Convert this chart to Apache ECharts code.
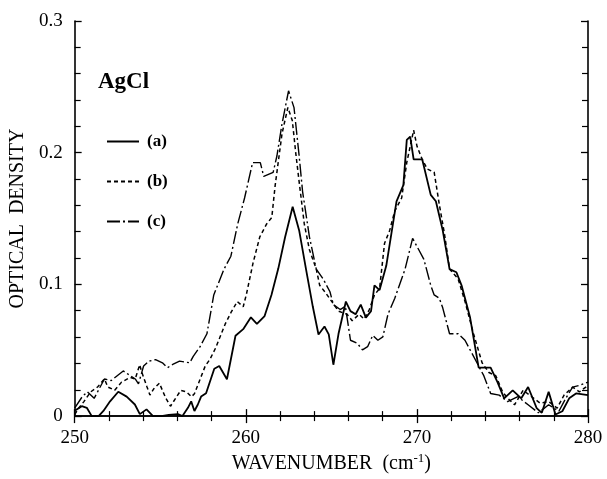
<!DOCTYPE html>
<html>
<head>
<meta charset="utf-8">
<script src="https://cdn.jsdelivr.net/npm/echarts@6/dist/echarts.min.js"></script>
<style>html,body{margin:0;padding:0;background:#fff;}#c{width:607px;height:479px;}</style>
</head>
<body>
<div id="c"></div>
<script>
// x ticks / y ticks
const xTicks = [250, 260, 270, 280];
const yTicks = [0, 0.1, 0.2, 0.3];
const seriesNames = ['(a)', '(b)', '(c)'];

// (a) solid
const aWn = [250.0,250.42,250.71,251.0,251.4,251.68,252.07,252.55,253.04,253.52,253.81,254.2,254.58,255.07,255.5,256.03,256.3,256.62,256.81,257.0,257.2,257.39,257.68,258.16,258.45,258.9,259.4,259.85,260.3,260.65,261.1,261.5,261.9,262.3,262.74,263.12,263.52,263.92,264.25,264.6,264.85,265.12,265.42,265.85,266.12,266.42,266.72,267.02,267.32,267.52,267.82,268.21,268.51,268.81,269.21,269.41,269.61,269.81,270.31,270.81,271.11,271.51,271.91,272.31,272.61,273.11,273.61,274.31,274.71,275.1,275.6,276.1,276.5,277.0,277.3,277.7,278.1,278.5,278.9,279.3,280.0];
const aOd = [0.004,0.0075,0.0063,0.0,0.0,0.0039,0.0112,0.0185,0.0148,0.0088,0.0015,0.0051,0.0,0.0,0.001,0.0015,0.0,0.0063,0.0112,0.0039,0.0088,0.0148,0.0173,0.036,0.038,0.028,0.061,0.066,0.075,0.07,0.076,0.092,0.112,0.136,0.159,0.141,0.1116,0.083,0.062,0.068,0.062,0.039,0.0625,0.087,0.0797,0.0773,0.0846,0.0748,0.0797,0.0993,0.0957,0.1141,0.1386,0.1631,0.1754,0.2097,0.2122,0.195,0.195,0.168,0.1631,0.141,0.1116,0.1092,0.0993,0.0748,0.0368,0.0368,0.0258,0.0135,0.0196,0.0135,0.0221,0.0061,0.0025,0.0184,0.0012,0.0037,0.0135,0.0172,0.0159];

// (b) short dash
const bWn = [250.0,250.24,250.54,250.94,251.34,251.74,251.94,252.34,252.74,253.24,253.54,253.8,253.93,254.23,254.4,254.63,254.95,255.33,255.6,256.2,256.53,256.83,257.0,257.63,257.9,258.23,258.8,259.13,259.5,259.85,260.03,260.43,260.82,261.22,261.52,261.72,262.12,262.46,262.72,262.92,263.12,263.42,263.72,264.12,264.32,264.62,265.02,265.42,265.92,266.22,266.62,266.92,267.22,267.52,267.82,268.11,268.41,268.71,269.11,269.41,269.61,269.81,270.01,270.31,270.61,271.01,271.31,271.61,271.91,272.41,272.81,273.31,273.81,274.21,274.61,275.01,275.31,275.71,276.21,276.71,277.2,277.7,278.2,278.6,279.1,279.5,280.0];
const bOd = [0.0012,0.0061,0.011,0.0184,0.0221,0.0282,0.0221,0.0196,0.0258,0.0294,0.0282,0.039,0.0331,0.0221,0.016,0.0208,0.025,0.0135,0.0075,0.0195,0.0185,0.0147,0.017,0.038,0.043,0.0515,0.07,0.0785,0.087,0.083,0.092,0.1165,0.1361,0.1459,0.1508,0.1754,0.2146,0.2343,0.2244,0.1999,0.1778,0.1459,0.1263,0.1116,0.0993,0.0944,0.0871,0.0797,0.0773,0.0724,0.0773,0.0736,0.0809,0.092,0.0969,0.1312,0.141,0.1558,0.1656,0.1926,0.2048,0.2171,0.2048,0.195,0.1876,0.1852,0.1607,0.1386,0.1116,0.1042,0.0871,0.0625,0.0405,0.0331,0.0307,0.0184,0.0135,0.0086,0.0196,0.0147,0.0098,0.011,0.0061,0.0159,0.022,0.0184,0.0233];

// (c) long dash-dot
const cWn = [250.0,250.44,250.74,251.14,251.74,252.14,252.84,253.54,253.73,254.03,254.33,254.73,255.13,255.43,255.73,256.13,256.73,256.93,257.33,257.73,258.13,258.73,259.13,259.53,259.93,260.4,260.85,261.05,261.6,261.82,262.12,262.5,262.82,263.12,263.32,263.72,264.12,264.52,264.92,265.12,265.52,265.82,266.12,266.52,266.82,267.12,267.42,267.72,268.01,268.31,268.71,269.31,269.75,270.11,270.41,270.81,271.01,271.31,271.51,271.91,272.41,272.81,273.11,273.51,273.91,274.31,274.81,275.3,275.9,276.5,277.1,277.7,278.3,278.7,279.1,279.5,280.0];
const cOd = [0.0061,0.0147,0.0184,0.0135,0.0282,0.027,0.0343,0.0282,0.0245,0.038,0.0417,0.0429,0.0405,0.0368,0.0392,0.0417,0.0405,0.0454,0.0527,0.0625,0.092,0.1116,0.1214,0.1459,0.1656,0.1925,0.1925,0.182,0.185,0.1975,0.222,0.247,0.2342,0.1975,0.1705,0.1361,0.1116,0.1042,0.0944,0.0846,0.0809,0.0834,0.0576,0.0552,0.0503,0.0527,0.0613,0.0576,0.0601,0.0773,0.0895,0.1116,0.135,0.1263,0.119,0.0993,0.092,0.0895,0.0822,0.0625,0.0625,0.0576,0.0503,0.0405,0.0307,0.0172,0.0159,0.011,0.0147,0.0086,0.0025,0.0086,0.0037,0.0135,0.022,0.0233,0.0258];

function pairs(xs, ys) { return xs.map((x, i) => [x, ys[i]]); }

const font = 'Liberation Serif';
const chart = echarts.init(document.getElementById('c'), null, {renderer: 'canvas'});

const baseAxisLine = {show: true, lineStyle: {color: '#000', width: 1.6}};
const xAxisCommon = {
  type: 'value', min: xTicks[0], max: xTicks[xTicks.length - 1], interval: 10,
  axisLine: baseAxisLine, splitLine: {show: false},
  axisTick: {show: true, inside: true, length: 7, lineStyle: {color: '#000', width: 1.3}},
  minorTick: {show: true, splitNumber: 5, length: 5, lineStyle: {color: '#000', width: 1.2}}
};
const yAxisCommon = {
  type: 'value', min: yTicks[0], max: yTicks[yTicks.length - 1], interval: 0.1,
  axisLine: baseAxisLine, splitLine: {show: false},
  axisTick: {show: true, inside: true, length: 7, lineStyle: {color: '#000', width: 1.3}},
  minorTick: {show: true, splitNumber: 5, length: 6, lineStyle: {color: '#000', width: 1.2}}
};

const option = {
  backgroundColor: '#fff',
  animation: false,
  grid: {left: 71, right: 19, top: 21, bottom: 47, containLabel: false},
  title: {
    text: 'AgCl', left: 93, top: 66,
    textStyle: {fontFamily: font, fontWeight: 'bold', fontSize: 23, color: '#000'}
  },
  legend: {
    orient: 'vertical', left: 101, top: 128,
    itemWidth: 32, itemHeight: 14, itemGap: 23,
    itemStyle: {color: 'rgba(0,0,0,0)', borderWidth: 0},
    textStyle: {fontFamily: font, fontSize: 17, fontWeight: 'bold', color: '#000', padding: [0, 0, 0, 3]},
    data: seriesNames
  },
  xAxis: [
    Object.assign({}, xAxisCommon, {
      position: 'bottom',
      axisLabel: {show: true, margin: 12, fontFamily: font, fontSize: 19, color: '#000'},
      name: 'WAVENUMBER  (cm{sup|-1})', nameLocation: 'middle', nameGap: 28,
      nameTextStyle: {fontFamily: font, fontSize: 20, color: '#000',
        rich: {sup: {fontFamily: font, fontSize: 13, color: '#000', verticalAlign: 'top', padding: [0, 0, 11, 0]}}}
    }),
    Object.assign({}, xAxisCommon, {position: 'top', axisLabel: {show: false}})
  ],
  yAxis: [
    Object.assign({}, yAxisCommon, {
      position: 'left',
      axisLabel: {show: true, margin: 12, fontFamily: font, fontSize: 19, color: '#000',
        formatter: v => (v === 0 ? '0' : v.toFixed(1))},
      name: 'OPTICAL  DENSITY', nameLocation: 'middle', nameGap: 39,
      nameTextStyle: {fontFamily: font, fontSize: 20, color: '#000'}
    }),
    Object.assign({}, yAxisCommon, {position: 'right', axisLabel: {show: false}})
  ],
  series: [
    {name: seriesNames[0], type: 'line', data: pairs(aWn, aOd), symbol: 'none', clip: true,
     lineStyle: {color: '#000', width: 1.8, type: 'solid'}},
    {name: seriesNames[1], type: 'line', data: pairs(bWn, bOd), symbol: 'none', clip: true,
     lineStyle: {color: '#000', width: 1.5, type: [4, 3]}},
    {name: seriesNames[2], type: 'line', data: pairs(cWn, cOd), symbol: 'none', clip: true,
     lineStyle: {color: '#000', width: 1.4, type: [13, 3, 2, 3]}}
  ]
};
chart.setOption(option);
</script>
</body>
</html>
